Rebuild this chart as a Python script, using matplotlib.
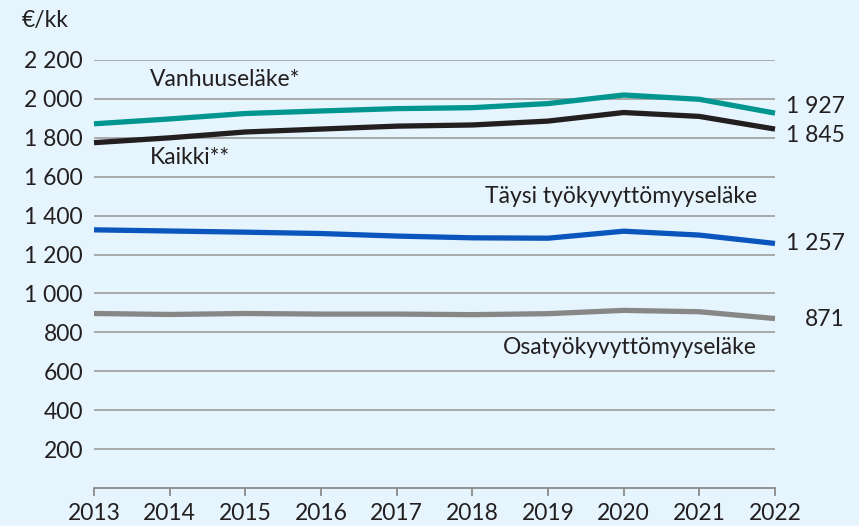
import matplotlib
matplotlib.use("Agg")
import matplotlib.pyplot as plt
from matplotlib.ticker import FuncFormatter

years = [2013, 2014, 2015, 2016, 2017, 2018, 2019, 2020, 2021, 2022]
vanhuus = [1872, 1897, 1925, 1938, 1950, 1955, 1976, 2020, 1998, 1927]
kaikki = [1775, 1800, 1830, 1845, 1860, 1866, 1886, 1930, 1910, 1845]
taysi = [1327, 1321, 1315, 1308, 1295, 1286, 1284, 1320, 1300, 1257]
osa = [897, 892, 897, 894, 894, 891, 896, 913, 906, 871]
yticks = [200, 400, 600, 800, 1000, 1200, 1400, 1600, 1800, 2000, 2200]

plt.rcParams['font.family'] = ['Lato', 'DejaVu Sans']
bg = '#e6f5fd'
W, H = 859, 526
fig = plt.figure(figsize=(W/100, H/100), dpi=100, facecolor=bg)
ax = fig.add_axes([94/W, 1-488/H, (775-94)/W, (488-60)/H], facecolor=bg)

fs = 16.5
tc = '#231f20'
ax.set_ylim(0, 2200)
ax.set_xlim(2013, 2022)
ax.set_yticks(yticks)
ax.yaxis.set_major_formatter(FuncFormatter(lambda v, p: f"{int(v):,}".replace(",", " ")))
ax.grid(axis='y', color='#a3a3a3', lw=1.3, zorder=0)
ax.set_xticks(years)
ax.tick_params(axis='y', length=0, pad=8, labelsize=fs, labelcolor=tc)
ax.tick_params(axis='x', length=6, width=1.3, color='#8c8c8c', pad=5, labelsize=fs, labelcolor=tc)
for s in ['top', 'right', 'left']:
    ax.spines[s].set_visible(False)
ax.spines['bottom'].set_color('#8c8c8c')
ax.spines['bottom'].set_linewidth(1.3)

lw = 3.8
ax.plot(years, osa, color='#878787', lw=lw, zorder=3, clip_on=False, solid_capstyle='butt')
ax.plot(years, taysi, color='#0a56bd', lw=lw, zorder=3, clip_on=False, solid_capstyle='butt')
ax.plot(years, kaikki, color='#231f20', lw=lw, zorder=3, clip_on=False, solid_capstyle='butt')
ax.plot(years, vanhuus, color='#00968f', lw=lw, zorder=3, clip_on=False, solid_capstyle='butt')

fig.text(22/W, 1-20/H, '€/kk', fontsize=fs, color=tc, va='center', ha='left')
fig.text(150/W, 1-80/H, 'Vanhuuseläke*', fontsize=fs, color=tc, va='center', ha='left')
fig.text(150/W, 1-158/H, 'Kaikki**', fontsize=fs, color=tc, va='center', ha='left')
fig.text(757/W, 1-197/H, 'Täysi työkyvyttömyyseläke', fontsize=fs, color=tc, va='center', ha='right')
fig.text(757/W, 1-347/H, 'Osatyökyvyttömyyseläke', fontsize=fs, color=tc, va='center', ha='right')

end_y = {1927: 106, 1845: 136, 1257: 243, 871: 319}
for val, yy in end_y.items():
    fig.text(845/W, 1-yy/H, f"{val:,}".replace(",", " "), fontsize=fs, color=tc, va='center', ha='right')

fig.savefig('out.png', dpi=100, facecolor=bg)
